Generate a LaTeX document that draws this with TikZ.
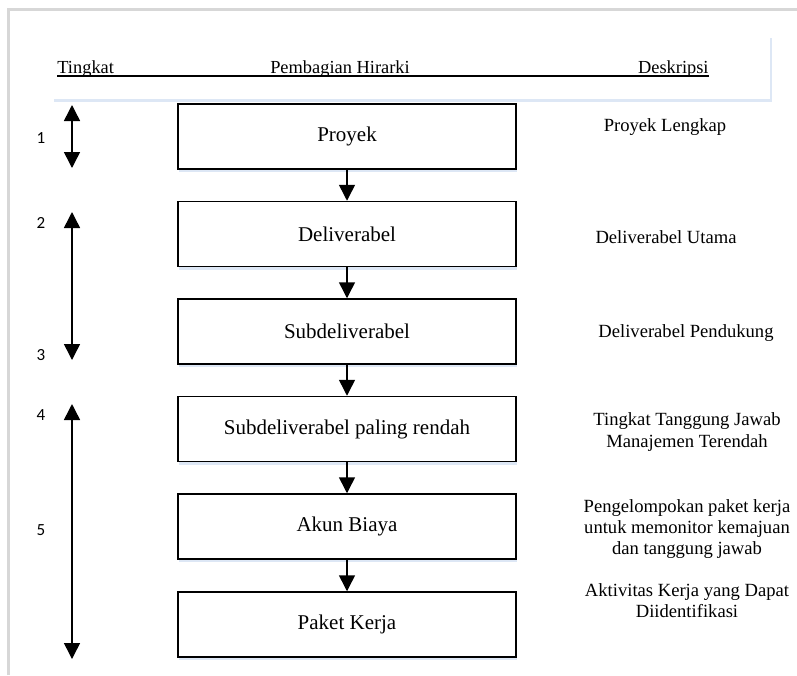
\documentclass[tikz,border=0pt]{standalone}
\usepackage{fontspec}
\setmainfont{Liberation Serif}
\newfontfamily\numfont{Carlito}
\usetikzlibrary{arrows.meta,shadows}
\definecolor{shade}{RGB}{221,231,245}
\definecolor{frame}{RGB}{215,215,215}
\tikzset{
  wbsbox/.style={draw,line width=0.75pt,fill=white,minimum width=169pt,minimum height=32.5pt,
    font=\fontsize{10.5}{12}\selectfont,
    drop shadow={fill=shade,opacity=1,shadow xshift=0.6pt,shadow yshift=-1.6pt}},
  desc/.style={align=center,font=\fontsize{9.3}{10.6}\selectfont},
  hdr/.style={anchor=base,inner sep=0pt,font=\fontsize{9.2}{11}\selectfont},
  num/.style={font=\numfont\fontsize{8.5}{10}\selectfont},
  link/.style={line width=0.75pt,-{Triangle[width=8pt,length=8pt]}},
  levelspan/.style={line width=0.75pt,{Triangle[width=8pt,length=8pt]}-{Triangle[width=8pt,length=8pt]}}
}
\begin{document}
\begin{tikzpicture}[x=0.5pt,y=-0.5pt]
\useasboundingbox[fill=white] (0,0) rectangle (797,675);

% page frame
\draw[frame,line width=1.5pt] (8,675) -- (8,9) -- (797,9);

% header
\fill[white,drop shadow={fill=shade,opacity=1,shadow xshift=0.8pt,shadow yshift=-1.5pt}] (52,35) rectangle (770,99);
\node[hdr,anchor=base west] (tingkat) at (57,73) {Tingkat};
\node[hdr] (hirarki) at (340,73) {Pembagian Hirarki};
\node[hdr,anchor=base east] (deskripsi) at (709,73) {Deskripsi};
\coordinate (ulstart) at (57,76);
\coordinate (ulend) at (709,76);
\draw[black,line width=0.9pt] (ulstart) -- (ulend);

% hierarchy
\node[wbsbox] (proyek) at (347,136.5) {Proyek};
\node[wbsbox] (deliv) at (347,234) {Deliverabel};
\node[wbsbox] (subdeliv) at (347,331.5) {Subdeliverabel};
\node[wbsbox] (rendah) at (347,429) {Subdeliverabel paling rendah};
\node[wbsbox] (akun) at (347,526.5) {Akun Biaya};
\node[wbsbox] (paket) at (347,624.5) {Paket Kerja};

\draw[link] (proyek) -- (deliv);
\draw[link] (deliv) -- (subdeliv);
\draw[link] (subdeliv) -- (rendah);
\draw[link] (rendah) -- (akun);
\draw[link] (akun) -- (paket);

% descriptions
\node[desc] (d1) at (665,127) {Proyek Lengkap};
\node[desc] (d2) at (666,237) {Deliverabel Utama};
\node[desc] (d3) at (686,333) {Deliverabel Pendukung};
\node[desc] (d4) at (687,432) {Tingkat Tanggung Jawab\\Manajemen Terendah};
\node[desc] (d5) at (687,529) {Pengelompokan paket kerja\\untuk memonitor kemajuan\\dan tanggung jawab};
\node[desc] (d6) at (687,601) {Aktivitas Kerja yang Dapat\\Diidentifikasi};

% levels
\node[num] (n1) at (41,138) {1};
\node[num] (n2) at (41,223) {2};
\node[num] (n3) at (41,355) {3};
\node[num] (n4) at (41,415) {4};
\node[num] (n5) at (41,530) {5};
\coordinate (a1) at (72,105);
\coordinate (b1) at (72,168);
\coordinate (a2) at (72,212);
\coordinate (b2) at (72,360);
\coordinate (a3) at (72,404);
\coordinate (b3) at (72,659);
\draw[levelspan] (a1) -- (b1);
\draw[levelspan] (a2) -- (b2);
\draw[levelspan] (a3) -- (b3);
\end{tikzpicture}
\end{document}
